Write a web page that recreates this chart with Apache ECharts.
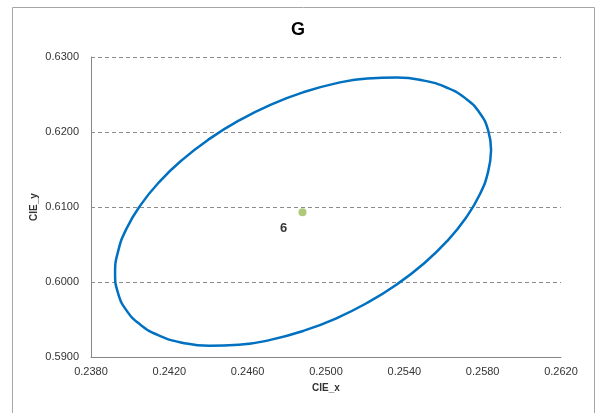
<!DOCTYPE html>
<html>
<head>
<meta charset="utf-8">
<script src="https://cdn.jsdelivr.net/npm/echarts@6/dist/echarts.min.js"></script>
<style>
html,body{margin:0;padding:0;background:#fff;}
#c{width:596px;height:413px;}
</style>
</head>
<body>
<div id="c"></div>
<script>
var titleText = 'G';
var xName = 'CIE_x';
var yName = 'CIE_y';
var xMin = 0.2380, xMax = 0.2620, xStep = 0.0040;
var yMin = 0.5900, yMax = 0.6300, yStep = 0.0100;

// ellipse outline points (CIE_x, CIE_y)
var ellipseX = [0.25843,0.25828,0.25785,0.25714,0.25618,0.25500,0.25363,0.25211,0.25050,0.24883,0.24716,0.24555,0.24403,0.24266,0.24148,0.24052,0.23981,0.23938,0.23923,0.23938,0.23981,0.24052,0.24148,0.24266,0.24403,0.24555,0.24716,0.24883,0.25050,0.25211,0.25363,0.25500,0.25618,0.25714,0.25785,0.25828,0.25843];
var ellipseY = [0.61759,0.62023,0.62254,0.62445,0.62590,0.62685,0.62727,0.62714,0.62648,0.62529,0.62363,0.62153,0.61905,0.61629,0.61332,0.61022,0.60710,0.60405,0.60117,0.59853,0.59622,0.59431,0.59286,0.59191,0.59149,0.59162,0.59228,0.59347,0.59513,0.59723,0.59971,0.60247,0.60544,0.60854,0.61166,0.61471,0.61759];

var pointX = [0.2488];
var pointY = [0.6093];
var pointLabels = ['6'];

var ellipseData = ellipseX.map(function(x, i){ return [x, ellipseY[i]]; });
var pointData = pointX.map(function(x, i){ return {value:[x, pointY[i]], name: pointLabels[i]}; });

var chart = echarts.init(document.getElementById('c'), null, {renderer:'canvas'});
var font = '"Liberation Sans", Arial, sans-serif';
chart.setOption({
  animation:false,
  backgroundColor:'#ffffff',
  graphic:[{
    type:'rect', left:10, top:5,
    shape:{width:582, height:430},
    style:{fill:'none', stroke:'#a6a6a6', lineWidth:1}
  }],
  title:{
    text:titleText, left:'center', top:16,
    textStyle:{fontFamily:font, fontSize:18, fontWeight:'bold', color:'#000'}
  },
  grid:{left:91, right:35, top:57, bottom:56},
  xAxis:{
    type:'value', min:xMin, max:xMax, interval:xStep,
    name:xName, nameLocation:'middle', nameGap:26,
    nameTextStyle:{fontFamily:font, fontSize:10, fontWeight:'bold', color:'#333'},
    axisLine:{show:true, lineStyle:{color:'#868686', width:1}},
    axisTick:{show:false},
    splitLine:{show:false},
    axisLabel:{fontFamily:font, fontSize:11, color:'#333', margin:9,
      formatter:function(v){return v.toFixed(4);}}
  },
  yAxis:{
    type:'value', min:yMin, max:yMax, interval:yStep,
    name:yName, nameLocation:'middle', nameGap:52, nameRotate:90,
    nameMoveOverlap:false,
    nameTextStyle:{fontFamily:font, fontSize:10, fontWeight:'bold', color:'#333'},
    axisLine:{show:true, lineStyle:{color:'#868686', width:1}},
    axisTick:{show:false},
    splitLine:{show:true, lineStyle:{color:'#8c8c8c', type:[4,3], width:1}},
    axisLabel:{fontFamily:font, fontSize:11, color:'#333', margin:12,
      formatter:function(v){return v.toFixed(4);}}
  },
  series:[
    {
      type:'line', data:ellipseData, smooth:0.5, showSymbol:false, symbol:'none',
      lineStyle:{color:'#0070C0', width:2.5}, z:3
    },
    {
      type:'scatter', data:pointData, symbolSize:8,
      itemStyle:{color:'#9BBB59'},
      label:{show:true, formatter:'{b}', position:'bottom', offset:[-19,1],
        fontFamily:font, fontSize:13, fontWeight:'bold', color:'#000'},
      z:4
    }
  ]
});
</script>
</body>
</html>
